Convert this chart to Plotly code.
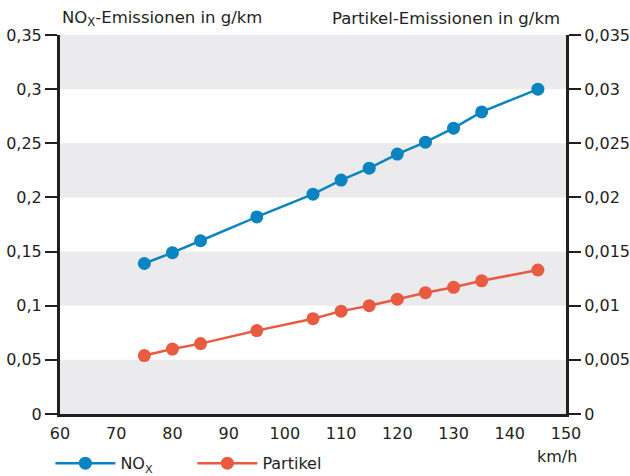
import plotly.graph_objects as go

speed = [75, 80, 85, 95, 105, 110, 115, 120, 125, 130, 135, 145]
nox = [0.139, 0.149, 0.160, 0.182, 0.203, 0.216, 0.227, 0.240, 0.251, 0.264, 0.279, 0.300]
partikel = [0.0054, 0.0060, 0.0065, 0.0077, 0.0088, 0.0095, 0.0100, 0.0106, 0.0112, 0.0117, 0.0123, 0.0133]

x_ticks = [60, 70, 80, 90, 100, 110, 120, 130, 140, 150]
y_left_ticks = [0, 0.05, 0.1, 0.15, 0.2, 0.25, 0.3, 0.35]
y_right_ticks = [0, 0.005, 0.01, 0.015, 0.02, 0.025, 0.03, 0.035]

BLUE = "#0a84c1"
RED = "#e95b40"
INK = "#231f20"
BAND = "#ebebed"
FONT = "DejaVu Sans"
FS = 16

fig = go.Figure()
fig.add_trace(go.Scatter(
    x=speed, y=nox, name="NO<sub>X</sub>", mode="lines+markers",
    line=dict(color=BLUE, width=2.5), marker=dict(color=BLUE, size=13),
    yaxis="y"))
fig.add_trace(go.Scatter(
    x=speed, y=partikel, name="Partikel", mode="lines+markers",
    line=dict(color=RED, width=2.5), marker=dict(color=RED, size=13),
    yaxis="y2"))

shapes = []
for i in range(0, len(y_left_ticks) - 1, 2):
    shapes.append(dict(type="rect", xref="paper", yref="y", x0=0, x1=1,
                       y0=y_left_ticks[i], y1=y_left_ticks[i + 1],
                       fillcolor=BAND, line=dict(width=0), layer="below"))

fig.update_layout(
    width=630, height=476,
    margin=dict(l=60, r=64, t=35, b=62, autoexpand=False),
    paper_bgcolor="white", plot_bgcolor="white",
    separators=", ",
    font=dict(family=FONT, size=FS, color=INK),
    shapes=shapes,
    showlegend=True,
    legend=dict(orientation="h", x=-0.019, y=-0.13, xanchor="left", yanchor="middle",
                font=dict(size=FS, color=INK), itemwidth=60, bgcolor="rgba(0,0,0,0)",
                entrywidth=67),
    xaxis=dict(range=[60, 150], tickvals=x_ticks, showline=True, linecolor=INK,
               linewidth=3, ticks="", showgrid=False, zeroline=False, automargin=False,
               ticklabelstandoff=3, tickfont=dict(size=FS, color=INK)),
    yaxis=dict(range=[0, 0.35], tickvals=y_left_ticks, showline=True, linecolor=INK,
               linewidth=3, ticks="outside", ticklen=12, tickwidth=2, tickcolor=INK,
               showgrid=False, zeroline=False, automargin=False,
               tickfont=dict(size=FS, color=INK)),
    yaxis2=dict(range=[0, 0.035], tickvals=y_right_ticks, overlaying="y", side="right",
                showline=True, linecolor=INK, linewidth=3, ticks="outside", ticklen=12,
                tickwidth=2, tickcolor=INK, showgrid=False, zeroline=False, automargin=False,
                tickfont=dict(size=FS, color=INK)),
    annotations=[
        dict(text="NO<sub>X</sub>-Emissionen in g/km", xref="paper", yref="paper",
             x=0, y=1.043, xanchor="left", yanchor="middle", showarrow=False,
             font=dict(size=16.5, color=INK)),
        dict(text="Partikel-Emissionen in g/km", xref="paper", yref="paper",
             x=0.992, y=1.043, xanchor="right", yanchor="middle", showarrow=False,
             font=dict(size=16.5, color=INK)),
        dict(text="km/h", xref="paper", yref="paper", x=1.026, y=-0.112,
             xanchor="right", yanchor="middle", showarrow=False,
             font=dict(size=FS, color=INK)),
    ],
)

fig.write_html("out.html", config={"displayModeBar": False},
               post_script="document.body.style.margin='0';document.body.style.padding='0';")
